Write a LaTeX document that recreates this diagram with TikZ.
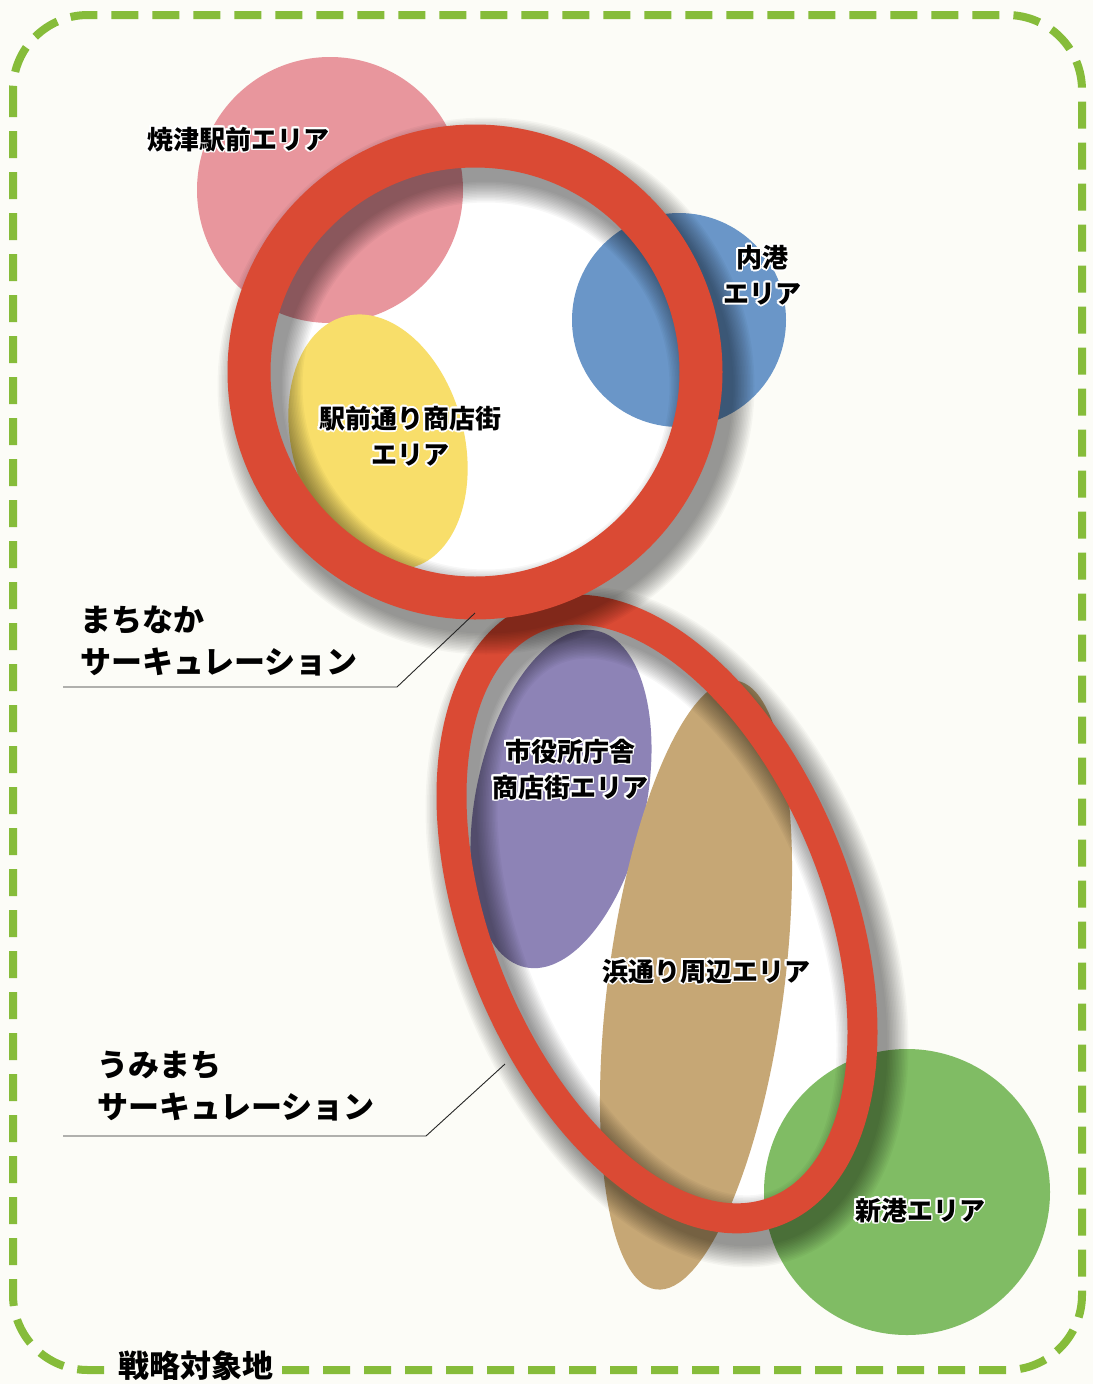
\documentclass[tikz,border=0pt]{standalone}
\usepackage{fontspec}
\newfontfamily\jp{Noto Sans CJK JP}
\usepackage{contour}
\contourlength{1.6pt}
\definecolor{bgc}{RGB}{252,252,247}
\definecolor{bordergreen}{RGB}{134,188,58}
\definecolor{pinkc}{RGB}{232,150,157}
\definecolor{bluec}{RGB}{106,150,200}
\definecolor{yellowc}{RGB}{248,222,106}
\definecolor{purplec}{RGB}{141,131,182}
\definecolor{tanc}{RGB}{198,167,117}
\definecolor{greenc}{RGB}{128,188,100}
\definecolor{redc}{RGB}{218,74,52}
\begin{document}
\begin{tikzpicture}[x=1pt,y=-1pt,
  lab/.style={font=\jp\bfseries\fontsize{26pt}{36pt}\selectfont, align=center, inner sep=0pt},
  biglab/.style={font=\jp\bfseries\fontsize{31pt}{42pt}\selectfont, align=left, inner sep=0pt},
  leader/.style={draw=black!85, line width=0.9pt},
  ringline/.style={draw=redc},
  shade/.style={draw=black, opacity=0.03}]
\fill[bgc] (0,0) rectangle (1093,1384);
\useasboundingbox (0,0) rectangle (1093,1384);
% border
\draw[bordergreen, line width=8pt, dash pattern=on 27pt off 14pt, rounded corners=75pt]
  (13,15) rectangle (1082,1370);
% ring interiors
\fill[white] (475,372) circle[radius=226];
\fill[white, rotate around={22:(657,914)}] (657,914) ellipse[x radius=180, y radius=320];
% area blobs
\fill[pinkc] (330,190) circle[radius=133];
\fill[yellowc, rotate around={15:(378,442)}] (378,442) ellipse[x radius=86, y radius=130];
\fill[bluec] (679,320) circle[radius=107];
\fill[purplec, rotate around={-12:(561,799)}] (561,799) ellipse[x radius=85, y radius=172];
\fill[tanc, rotate around={-7.5:(696,985)}] (696,985) ellipse[x radius=88, y radius=307];
\fill[greenc] (907,1192) circle[radius=143];
% ring 2 shadow + ring
\foreach \k in {0,...,14}
  \draw[shade, line width={30pt+3pt*\k}, rotate around={22:(667,927)}] (667,927) ellipse[x radius=180, y radius=320];
\draw[ringline, line width=30pt, rotate around={22:(657,914)}] (657,914) ellipse[x radius=180, y radius=320];
% ring 1 shadow + ring
\foreach \k in {0,...,14}
  \draw[shade, line width={43pt+3pt*\k}] (486,386) circle[radius=226];
\draw[ringline, line width=43pt] (475,372) circle[radius=226];
% leaders
\coordinate (m1a) at (63,687);
\coordinate (m1b) at (397,687);
\coordinate (m1c) at (475,613);
\draw[leader] (m1a) -- (m1b) -- (m1c);
\coordinate (u1a) at (63,1136);
\coordinate (u1b) at (426,1136);
\coordinate (u1c) at (505,1064);
\draw[leader] (u1a) -- (u1b) -- (u1c);
% labels
\node[lab] (yaizu) at (238,140) {\contour{white}{焼津駅前エリア}};
\node[lab] (uchi) at (762,276) {\contour{white}{内港}\\\contour{white}{エリア}};
\node[lab] (ekimae) at (410,437) {\contour{white}{駅前通り商店街}\\\contour{white}{エリア}};
\node[lab] (shiyaku) at (570,770) {\contour{white}{市役所庁舎}\\\contour{white}{商店街エリア}};
\node[lab] (hama) at (706,972) {\contour{white}{浜通り周辺エリア}};
\node[lab] (shinko) at (920,1211) {\contour{white}{新港エリア}};
\node[biglab, anchor=west] (machi) at (80,641) {まちなか\\サーキュレーション};
\node[biglab, anchor=west] (umi) at (97,1086) {うみまち\\サーキュレーション};
\node[biglab, fill=bgc, inner xsep=3pt, inner ysep=0pt] (senryaku) at (196,1366) {戦略対象地};
\end{tikzpicture}
\end{document}
